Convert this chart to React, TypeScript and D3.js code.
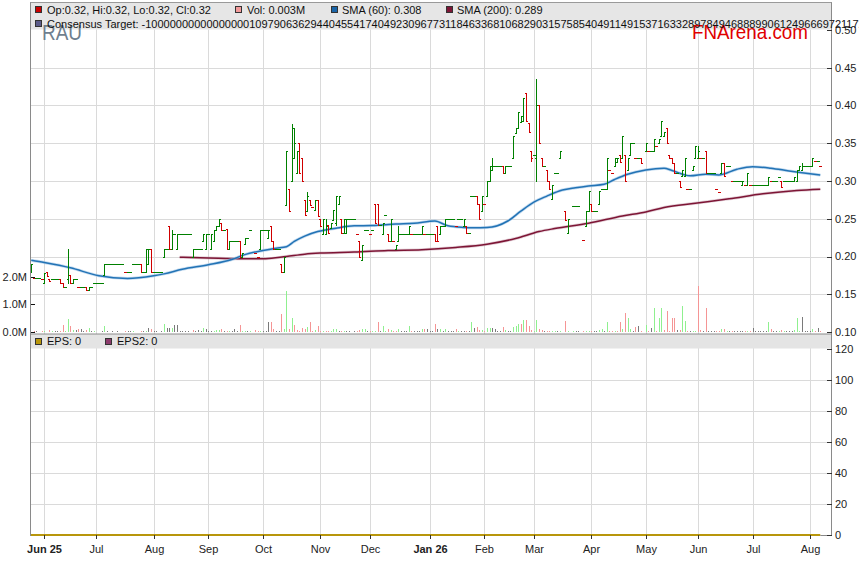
import React from 'react';
import * as d3 from 'd3';

// trading-day index of the first session of each month
const monthLabels = ['Jun 25', 'Jul', 'Aug', 'Sep', 'Oct', 'Nov', 'Dec', 'Jan 26', 'Feb', 'Mar', 'Apr', 'May', 'Jun', 'Jul', 'Aug'];
const monthStart = [5, 25, 47, 68, 89, 111, 130, 153, 174, 193, 215, 236, 256, 277, 299];
const boldMonths = ['Jun 25', 'Jan 26'];

const priceTicks = [0.1, 0.15, 0.2, 0.25, 0.3, 0.35, 0.4, 0.45, 0.5];
const volTicks = [0, 1, 2];
const epsTicks = [0, 20, 40, 60, 80, 100, 120];

// daily bars: number = flat day (o=h=l=c), [open, high, low, close], null = no trade
type Bar = number | [number, number, number, number] | null;
const bars: Bar[] = [
  // 0
  [0.18, 0.19, 0.18, 0.19], 0.172, 0.172, 0.172, 0.17,
  [0.165, 0.178, 0.165, 0.178], [0.18, 0.18, 0.174, 0.174], [0.17, 0.17, 0.167, 0.167], 0.17, 0.17,
  // 10
  0.17, [0.17, 0.17, 0.165, 0.165], [0.165, 0.165, 0.159, 0.159], 0.16, [0.17, 0.21, 0.165, 0.175],
  [0.175, 0.175, 0.165, 0.165], [0.165, 0.17, 0.165, 0.17], 0.17, 0.16, 0.16,
  // 20
  0.16, [0.16, 0.16, 0.155, 0.155], [0.155, 0.159, 0.155, 0.159], 0.159, 0.165,
  0.165, 0.165, 0.165, [0.175, 0.19, 0.175, 0.19], 0.19,
  // 30
  0.19, 0.19, 0.19, 0.19, 0.19, 0.19, 0.18, 0.18, 0.18, 0.19,
  // 40
  0.19, 0.19, [0.19, 0.19, 0.18, 0.18], 0.18, [0.18, 0.21, 0.18, 0.21],
  [0.19, 0.21, 0.19, 0.21], [0.21, 0.21, 0.18, 0.18], 0.18, 0.18, 0.18,
  // 50
  0.18, [0.2, 0.21, 0.2, 0.21], 0.21, [0.24, 0.24, 0.21, 0.21], [0.21, 0.235, 0.21, 0.23],
  0.23, [0.21, 0.23, 0.21, 0.23], 0.23, 0.23, 0.23,
  // 60
  0.23, 0.23, [0.2, 0.21, 0.2, 0.21], 0.21, 0.21,
  0.21, [0.22, 0.23, 0.22, 0.23], [0.21, 0.23, 0.21, 0.23], 0.23, [0.21, 0.23, 0.21, 0.23],
  // 70
  [0.22, 0.235, 0.22, 0.235], [0.235, 0.24, 0.235, 0.24], [0.24, 0.25, 0.24, 0.25], [0.245, 0.245, 0.235, 0.235], 0.235,
  [0.237, 0.237, 0.21, 0.21], [0.21, 0.22, 0.21, 0.22], 0.22, 0.22, 0.22,
  // 80
  [0.22, 0.22, 0.2, 0.2], [0.2, 0.205, 0.2, 0.205], [0.216, 0.225, 0.216, 0.225], 0.225, 0.235,
  null, 0.205, 0.2, [0.21, 0.235, 0.21, 0.235], 0.235,
  // 90
  0.235, [0.225, 0.235, 0.225, 0.235], [0.24, 0.24, 0.22, 0.22], [0.22, 0.22, 0.21, 0.21], 0.21,
  0.21, [0.19, 0.19, 0.179, 0.179], [0.18, 0.2, 0.179, 0.2], [0.268, 0.34, 0.268, 0.34], [0.29, 0.29, 0.26, 0.26],
  // 100
  [0.3, 0.375, 0.3, 0.37], [0.33, 0.37, 0.33, 0.35], [0.31, 0.34, 0.31, 0.34], [0.35, 0.35, 0.31, 0.31], [0.33, 0.33, 0.3, 0.3],
  [0.275, 0.275, 0.255, 0.255], [0.26, 0.286, 0.26, 0.28], [0.275, 0.275, 0.268, 0.268], 0.266, [0.262, 0.275, 0.262, 0.275],
  // 110
  [0.275, 0.275, 0.253, 0.253], [0.25, 0.25, 0.24, 0.24], [0.23, 0.25, 0.23, 0.25], [0.23, 0.25, 0.23, 0.24], [0.242, 0.242, 0.231, 0.231],
  [0.238, 0.244, 0.238, 0.244], [0.249, 0.262, 0.249, 0.262], [0.245, 0.28, 0.242, 0.28], [0.27, 0.28, 0.27, 0.28], [0.25, 0.25, 0.231, 0.231],
  // 120
  [0.231, 0.25, 0.231, 0.25], [0.231, 0.25, 0.231, 0.25], 0.25, 0.25, 0.25,
  0.23, [0.22, 0.22, 0.2, 0.2], [0.195, 0.215, 0.195, 0.215], 0.235, 0.235,
  // 130
  0.23, 0.235, [0.27, 0.27, 0.244, 0.244], [0.27, 0.27, 0.242, 0.242], 0.242,
  [0.23, 0.244, 0.23, 0.244], 0.255, [0.23, 0.23, 0.22, 0.22], [0.22, 0.25, 0.22, 0.25], 0.22,
  // 140
  [0.21, 0.215, 0.21, 0.215], [0.22, 0.24, 0.22, 0.23], 0.23, 0.23, 0.23,
  [0.23, 0.24, 0.23, 0.24], 0.23, 0.23, 0.23, 0.23,
  // 150
  [0.23, 0.24, 0.23, 0.24], 0.23, 0.23, 0.23, 0.23,
  [0.23, 0.23, 0.22, 0.22], [0.24, 0.24, 0.22, 0.22], [0.23, 0.24, 0.23, 0.24], 0.24, [0.24, 0.25, 0.24, 0.25],
  // 160
  0.25, 0.25, 0.25, 0.241, 0.25,
  0.25, [0.24, 0.25, 0.24, 0.25], [0.241, 0.241, 0.231, 0.231], 0.231, 0.28,
  // 170
  0.28, [0.28, 0.28, 0.27, 0.27], [0.27, 0.27, 0.25, 0.25], [0.26, 0.28, 0.26, 0.28], 0.27,
  [0.28, 0.3, 0.28, 0.3], [0.3, 0.32, 0.3, 0.32], [0.315, 0.331, 0.315, 0.32], 0.32, 0.32,
  // 180
  0.32, [0.32, 0.32, 0.311, 0.311], [0.311, 0.32, 0.311, 0.32], 0.32, 0.32,
  [0.331, 0.36, 0.331, 0.36], [0.364, 0.37, 0.364, 0.37], [0.37, 0.391, 0.37, 0.391], [0.378, 0.386, 0.378, 0.386], [0.379, 0.41, 0.379, 0.41],
  // 190
  [0.416, 0.416, 0.379, 0.379], [0.377, 0.377, 0.365, 0.365], [0.34, 0.34, 0.326, 0.33], 0.335, [0.33, 0.435, 0.3, 0.4],
  [0.4, 0.4, 0.35, 0.35], [0.331, 0.331, 0.32, 0.32], 0.32, [0.315, 0.315, 0.3, 0.3], [0.3, 0.3, 0.29, 0.29],
  // 200
  [0.276, 0.295, 0.276, 0.295], 0.311, 0.311, [0.331, 0.34, 0.331, 0.34], null,
  [0.26, 0.26, 0.249, 0.249], [0.231, 0.25, 0.231, 0.25], null, 0.267, 0.267,
  // 210
  0.267, null, 0.222, [0.24, 0.26, 0.24, 0.26], [0.26, 0.287, 0.26, 0.287],
  [0.27, 0.27, 0.26, 0.26], 0.26, 0.26, [0.27, 0.287, 0.27, 0.287], 0.29,
  // 220
  0.29, [0.29, 0.331, 0.29, 0.331], 0.315, 0.311, [0.32, 0.331, 0.32, 0.331],
  [0.325, 0.331, 0.325, 0.33], [0.335, 0.335, 0.325, 0.325], [0.331, 0.36, 0.331, 0.36], [0.334, 0.334, 0.3, 0.3], [0.315, 0.331, 0.315, 0.331],
  // 230
  [0.335, 0.35, 0.335, 0.35], 0.35, 0.33, 0.33, [0.33, 0.33, 0.324, 0.324],
  null, [0.34, 0.35, 0.34, 0.35], 0.34, 0.34, [0.34, 0.355, 0.34, 0.355],
  // 240
  0.346, [0.35, 0.355, 0.35, 0.355], [0.359, 0.379, 0.359, 0.379], [0.359, 0.365, 0.359, 0.365], [0.37, 0.37, 0.35, 0.35],
  [0.335, 0.335, 0.33, 0.33], [0.33, 0.33, 0.324, 0.324], [0.324, 0.324, 0.31, 0.31], 0.31, [0.3, 0.3, 0.292, 0.292],
  // 250
  [0.306, 0.315, 0.306, 0.315], [0.306, 0.33, 0.306, 0.33], 0.29, 0.29, [0.314, 0.32, 0.314, 0.32],
  [0.33, 0.346, 0.33, 0.346], [0.33, 0.346, 0.33, 0.34], 0.33, 0.33, [0.34, 0.34, 0.31, 0.31],
  // 260
  0.31, 0.31, 0.31, 0.29, 0.286,
  [0.31, 0.324, 0.31, 0.324], [0.324, 0.324, 0.306, 0.306], 0.32, 0.32, 0.3,
  // 270
  0.3, 0.3, 0.3, [0.295, 0.3, 0.295, 0.3], 0.295,
  [0.295, 0.31, 0.295, 0.31], 0.295, 0.295, 0.295, 0.295,
  // 280
  0.295, 0.295, 0.295, [0.295, 0.305, 0.295, 0.305], 0.3,
  0.3, 0.3, 0.305, [0.3, 0.3, 0.292, 0.292], 0.3,
  // 290
  0.3, 0.3, 0.3, [0.3, 0.305, 0.3, 0.305], [0.3, 0.315, 0.3, 0.315],
  [0.315, 0.32, 0.315, 0.32], [0.315, 0.324, 0.315, 0.32], 0.32, 0.32, 0.32,
  // 300
  [0.32, 0.33, 0.32, 0.33], 0.326, 0.326, 0.32,
];

// daily volume, millions of shares
const volumes = [
  0, 0.02, 0.03, 0, 0.05, 0.02, 0, 0.08, 0.05, 0.02,
  0.03, 0.05, 0.26, 0.03, 0.48, 0.2, 0.08, 0.08, 0.1, 0.12,
  0.03, 0.08, 0.15, 0.05, 0.05, 0, 0, 0.02, 0.2, 0.02,
  0, 0.02, 0, 0.03, 0, 0, 0.05, 0.05, 0.04, 0.02,
  0, 0, 0.03, 0.04, 0.02, 0.15, 0.1, 0.03, 0.02, 0,
  0.02, 0.3, 0.15, 0.15, 0.15, 0.25, 0.25, 0.03, 0.02, 0.05,
  0.02, 0, 0.08, 0.05, 0.08, 0.02, 0.15, 0.1, 0.03, 0.04,
  0.05, 0.08, 0.08, 0.1, 0.03, 0.05, 0.04, 0.02, 0.1, 0.03,
  0.25, 0.03, 0.03, 0.05, 0.02, 0, 0.08, 0.03, 0.05, 0.03,
  0.02, 0.35, 0.35, 0.1, 0.05, 0.05, 0.65, 0.1, 1.5, 0.1,
  0.5, 0.25, 0.08, 0.05, 0.15, 0.1, 0.18, 0.35, 0.03, 0.08,
  0.2, 0.05, 0.05, 0.03, 0.02, 0.02, 0.12, 0.1, 0.05, 0.05,
  0.02, 0.02, 0.02, 0, 0.02, 0.05, 0.08, 0.1, 0.1, 0.02,
  0.02, 0.05, 0.05, 0.35, 0.05, 0.2, 0.03, 0.1, 0.08, 0.02,
  0.05, 0.12, 0.02, 0.02, 0.03, 0.2, 0.02, 0.02, 0.03, 0.03,
  0.1, 0.1, 0.1, 0.02, 0.03, 0.3, 0.12, 0.12, 0.03, 0.1,
  0.02, 0.03, 0.05, 0.1, 0.05, 0.05, 0.05, 0.05, 0.02, 0.35,
  0.15, 0.18, 0.08, 0.08, 0.02, 0.15, 0.15, 0.15, 0.1, 0.02,
  0.02, 0.18, 0.08, 0.02, 0.02, 0.18, 0.2, 0.28, 0.28, 0.45,
  0.45, 0.2, 0.08, 0.02, 0.42, 0.1, 0.08, 0.02, 0.02, 0.05,
  0.05, 0.02, 0.02, 0.02, 0, 0.4, 0.05, 0, 0.02, 0.02,
  0.02, 0, 0.03, 0.05, 0.05, 0.03, 0.02, 0.02, 0.08, 0.12,
  0.05, 0.35, 0.05, 0.02, 0.02, 0.02, 0.35, 0.1, 0.7, 0.5,
  0.1, 0.05, 0.18, 0.2, 0.05, 0, 0.25, 0.03, 0.15, 0.86,
  0.05, 0.5, 0.88, 0.08, 0.75, 0.03, 0.5, 0.5, 0.08, 0.08,
  0.94, 0.4, 0.03, 0.02, 0.03, 0.05, 1.65, 0.08, 0.02, 0.85,
  0.02, 0.02, 0.02, 0.05, 0.05, 0.12, 0.12, 0.02, 0.02, 0.03,
  0.05, 0.02, 0.03, 0.03, 0.05, 0.03, 0.03, 0.15, 0.04, 0.04,
  0.02, 0.02, 0.02, 0.35, 0.1, 0.02, 0.02, 0.02, 0.08, 0.02,
  0.04, 0.02, 0.02, 0.06, 0.5, 0.05, 0.55, 0.02, 0.02, 0.02,
  0.1, 0.02, 0.15, 0.03,
];

// moving averages: [day index, value]
const sma60: [number, number][] = [
  [0, 0.195], [5, 0.192], [15, 0.185], [26, 0.1745], [37, 0.171], [47, 0.1745], [51, 0.177], [58, 0.183],
  [68, 0.189], [77, 0.196], [82, 0.2025], [89, 0.208], [94, 0.211], [98, 0.213], [101, 0.22], [105, 0.227],
  [110, 0.233], [117, 0.2375], [124, 0.2406], [131, 0.241], [140, 0.243], [147, 0.244], [155, 0.247],
  [160, 0.2406], [166, 0.2385], [170, 0.238], [175, 0.2383], [183, 0.247], [188, 0.26], [193, 0.272],
  [198, 0.28], [204, 0.288], [209, 0.291], [214, 0.2934], [220, 0.2956], [224, 0.302], [229, 0.309],
  [236, 0.3147], [243, 0.317], [246, 0.314], [253, 0.3068], [259, 0.309], [264, 0.308], [271, 0.3156],
  [277, 0.319], [284, 0.317], [291, 0.3134], [296, 0.311], [303, 0.308],
];
const sma200: [number, number][] = [
  [57, 0.199], [68, 0.198], [81, 0.197], [90, 0.197], [98, 0.2], [105, 0.203], [111, 0.2045], [124, 0.2058],
  [137, 0.208], [150, 0.209], [163, 0.212], [175, 0.2163], [186, 0.2238], [195, 0.233], [201, 0.237],
  [214, 0.244], [227, 0.2537], [236, 0.259], [243, 0.265], [255, 0.2706], [268, 0.2764], [281, 0.283],
  [294, 0.2874], [303, 0.289],
];

const consensusText = 'Consensus Target: -1000000000000000010979063629440455417404923096773118463368106829031575854049114915371633289784946888990612496669721172';

const FONT = '"Liberation Sans", Arial, sans-serif';
const GREEN = '#008000';
const RED = '#d00000';

export default function App() {
  const W = 859;
  const H = 566;
  const left = 31;
  const right = 832;
  const bottom = 535;

  const x = d3.scaleLinear().domain([-0.1, 307.5]).range([left, right]);
  const yP = d3.scaleLinear().domain([0.1, 0.5]).range([332, 30]);
  const yV = d3.scaleLinear().domain([0, 2]).range([332, 276.7]);
  const yE = d3.scaleLinear().domain([0, 120]).range([bottom, 349]);

  const ohlc = bars.map((b, i) => {
    if (b === null) return null;
    const [o, h, l, c] = typeof b === 'number' ? [b, b, b, b] : b;
    return { i, o, h, l, c };
  });

  let prev = 0.18;
  const items = ohlc.map((d) => {
    if (!d) return null;
    let color = GREEN;
    if (d.c < d.o) color = RED;
    else if (d.c === d.o && d.c < prev) color = RED;
    let vcol = '#7a7a7a';
    if (d.c > prev + 1e-9) vcol = '#8ff08f';
    else if (d.c < prev - 1e-9) vcol = '#f59595';
    prev = d.c;
    return { ...d, color, vcol };
  });

  const line = d3.line<[number, number]>()
    .x(d => x(d[0]))
    .y(d => yP(d[1]))
    .curve(d3.curveMonotoneX);

  const px = (i: number) => Math.round(x(i)) + 0.5;
  const py = (v: number) => Math.round(yP(v)) + 0.5;
  const ry = (v: number) => Math.round(yP(v));

  return (
    <div style={{ position: 'fixed', left: 0, top: 0 }}>
      <svg width={W} height={H} style={{ display: 'block', fontFamily: FONT }}>
        <rect x={0} y={0} width={W} height={H} fill="#fff" />

        {/* top legend band */}
        <rect x={left} y={2.5} width={right - left} height={27} fill="#e6e6e6" />

        {/* vertical grid */}
        {monthStart.map((m, k) => (
          <line key={'vg' + k} x1={px(m)} x2={px(m)} y1={29.5} y2={bottom} stroke="#dadada" />
        ))}
        {/* price grid */}
        {priceTicks.slice(1, -1).map(t => (
          <line key={'pg' + t} x1={left} x2={right} y1={py(t)} y2={py(t)} stroke="#dadada" />
        ))}
        {/* eps grid */}
        {epsTicks.slice(1, -1).map(t => (
          <line key={'eg' + t} x1={left} x2={right} y1={Math.round(yE(t)) + 0.5} y2={Math.round(yE(t)) + 0.5} stroke="#dadada" />
        ))}

        {/* volume */}
        <g shapeRendering="crispEdges">
          {items.map((d, k) => d && volumes[k] > 0 ? (
            <rect key={'v' + k} x={Math.round(x(d.i))} y={Math.round(yV(volumes[k]))} width={1}
              height={332 - Math.round(yV(volumes[k]))} fill={d.vcol} />
          ) : null)}
        </g>

        {/* moving averages */}
        <path d={line(sma200) || ''} fill="none" stroke="#c8a0b0" strokeWidth={3} strokeOpacity={0.5} />
        <path d={line(sma200) || ''} fill="none" stroke="#7d1535" strokeWidth={1.5} />
        <path d={line(sma60) || ''} fill="none" stroke="#9cc3e6" strokeWidth={3} strokeOpacity={0.6} />
        <path d={line(sma60) || ''} fill="none" stroke="#2273b5" strokeWidth={1.5} />

        {/* OHLC bars: 1px stem, 1px open tick left, 1px close tick right */}
        <g shapeRendering="crispEdges">
          {items.map((d, k) => {
            if (!d) return null;
            const X = Math.round(x(d.i));
            return (
              <g key={'b' + k} fill={d.color}>
                <rect x={X} y={ry(d.h)} width={1} height={ry(d.l) - ry(d.h) + 1} />
                <rect x={X - 1} y={ry(d.o)} width={1} height={1} />
                <rect x={X + 1} y={ry(d.c)} width={1} height={1} />
              </g>
            );
          })}
        </g>

        {/* EPS band */}
        <rect x={left} y={334} width={right - left} height={14.5} fill="#e4e4e4" />
        <line x1={left} x2={right} y1={334} y2={334} stroke="#8a8a8a" />
        {/* EPS lines at zero */}
        <line x1={left} x2={x(303)} y1={bottom} y2={bottom} stroke="#b8960c" strokeWidth={2} />

        {/* frame */}
        <line x1={30.5} x2={30.5} y1={2} y2={bottom + 1} stroke="#8a8a8a" />
        <line x1={831.5} x2={831.5} y1={2} y2={bottom + 1} stroke="#8a8a8a" />
        <line x1={30.5} x2={831.5} y1={2.5} y2={2.5} stroke="#9a9a9a" />
        <line x1={x(303)} x2={831.5} y1={bottom + 0.5} y2={bottom + 0.5} stroke="#8a8a8a" />

        {/* right price axis */}
        {priceTicks.map(t => (
          <g key={'pt' + t}>
            <line x1={827} x2={832} y1={py(t)} y2={py(t)} stroke="#333" />
            <text x={835} y={yP(t)} dy="0.35em" fontSize={11} fill="#222">{t.toFixed(2)}</text>
          </g>
        ))}
        {/* left volume axis */}
        {volTicks.map(t => (
          <g key={'vt' + t}>
            <line x1={31} x2={35} y1={Math.round(yV(t)) + 0.5} y2={Math.round(yV(t)) + 0.5} stroke="#111" />
            <text x={27} y={yV(t)} dy="0.35em" fontSize={11} fill="#222" textAnchor="end">{t.toFixed(1) + 'M'}</text>
          </g>
        ))}
        {/* right eps axis */}
        {epsTicks.map(t => (
          <g key={'et' + t}>
            <line x1={827} x2={832} y1={Math.round(yE(t)) + 0.5} y2={Math.round(yE(t)) + 0.5} stroke="#333" />
            <text x={835} y={yE(t)} dy="0.35em" fontSize={11} fill="#222">{t}</text>
          </g>
        ))}
        {/* bottom month axis */}
        {monthStart.map((m, k) => (
          <g key={'mt' + k}>
            <line x1={px(m)} x2={px(m)} y1={bottom} y2={bottom + 4} stroke="#333" />
            <text x={px(m)} y={549} dy="0.35em" fontSize={11} fill="#222" textAnchor="middle"
              fontWeight={boldMonths.includes(monthLabels[k]) ? 'bold' : 'normal'}>{monthLabels[k]}</text>
          </g>
        ))}

        {/* watermark texts */}
        <text x={42} y={40} fontSize={22} fill="#6f7f8f" textLength={40} lengthAdjust="spacingAndGlyphs">RAU</text>
        <text x={692} y={39} fontSize={20} fill="#e00000" textLength={116} lengthAdjust="spacingAndGlyphs">FNArena.com</text>

        {/* legend line 1 */}
        <g fontSize={11} fill="#111">
          <rect x={35.5} y={6.5} width={6} height={6} fill="#cc0000" stroke="#333" />
          <text x={47} y={10} dy="0.35em">Op:0.32, Hi:0.32, Lo:0.32, Cl:0.32</text>
          <rect x={235.5} y={6.5} width={6} height={6} fill="#f49a9a" stroke="#333" />
          <text x={247} y={10} dy="0.35em">Vol: 0.003M</text>
          <rect x={331.5} y={6.5} width={6} height={6} fill="#1a65a8" stroke="#333" />
          <text x={342} y={10} dy="0.35em">SMA (60): 0.308</text>
          <rect x={446.5} y={6.5} width={6} height={6} fill="#7d1535" stroke="#333" />
          <text x={457} y={10} dy="0.35em">SMA (200): 0.289</text>
          <rect x={35.5} y={20.5} width={6} height={6} fill="#5c5c8a" stroke="#333" />
          <text x={47} y={24} dy="0.35em">{consensusText}</text>
        </g>

        {/* EPS legend */}
        <g fontSize={11} fill="#111">
          <rect x={35.5} y={338.5} width={6} height={6} fill="#b8960c" stroke="#333" />
          <text x={47} y={341.5} dy="0.35em">EPS: 0</text>
          <rect x={105.5} y={338.5} width={6} height={6} fill="#8b3a6b" stroke="#333" />
          <text x={117} y={341.5} dy="0.35em">EPS2: 0</text>
        </g>
      </svg>
    </div>
  );
}
